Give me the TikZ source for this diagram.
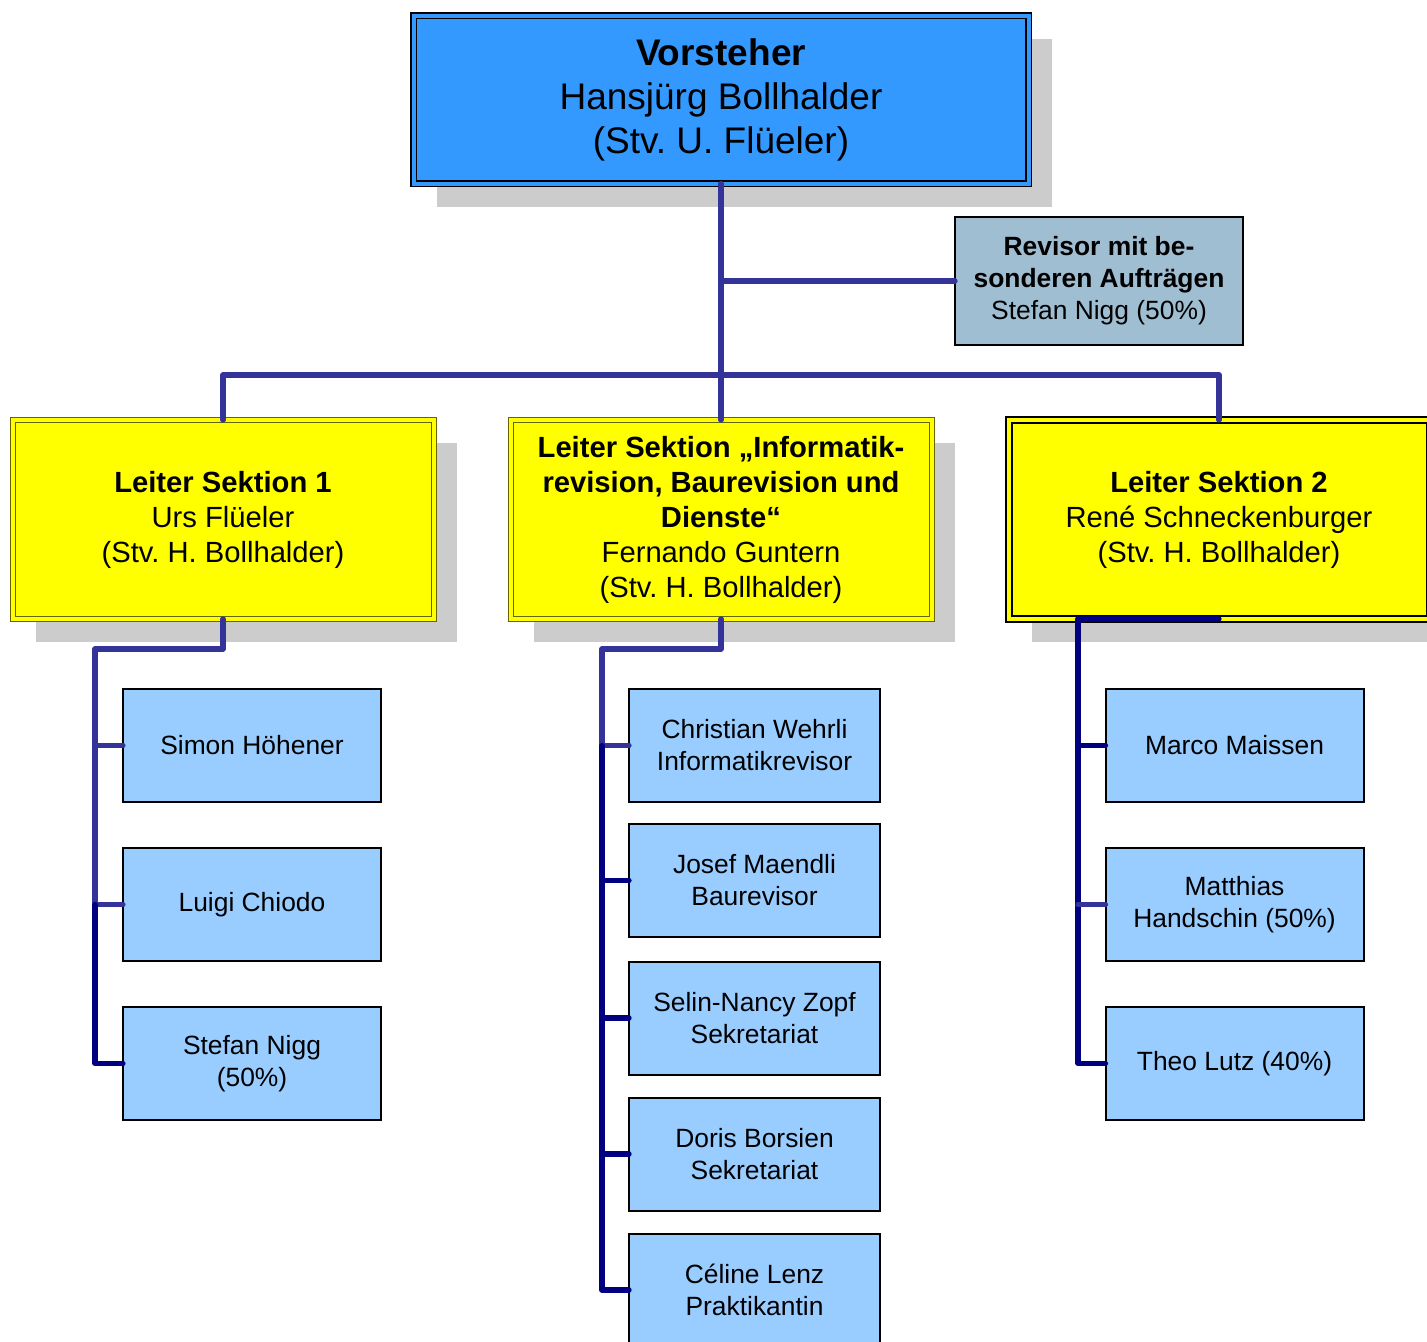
\documentclass[tikz,border=0pt]{standalone}
\usepackage{fontspec}
\setmainfont{Liberation Sans}
\frenchspacing
\usetikzlibrary{shadows}

\definecolor{chiefblue}{HTML}{3399FF}
\definecolor{revgray}{HTML}{A0BED2}
\definecolor{leiteryellow}{HTML}{FFFF00}
\definecolor{olive}{HTML}{666600}
\definecolor{staffblue}{HTML}{99CCFF}
\definecolor{linkblue}{HTML}{333399}
\definecolor{linknavy}{HTML}{000080}
\definecolor{shadowgray}{HTML}{CCCCCC}

\begin{document}
\begin{tikzpicture}
	[
	x=0.5pt, y=-0.5pt,
	align=center,
	box/.style={rectangle, inner sep=0pt, outer sep=0pt},
	shade/.style={drop shadow={shadow xshift=11.5pt, shadow yshift=-11.5pt, fill=shadowgray, opacity=1}},
	chief/.style={box, shade, fill=chiefblue, draw=black, line width=0.6pt, double=chiefblue, double distance=2pt, minimum width=307.5pt, minimum height=84pt, font=\fontsize{18.5}{22}\selectfont},
	revisor/.style={box, fill=revgray, draw=black, line width=1pt, minimum width=144pt, minimum height=64pt, font=\fontsize{13.2}{16}\selectfont},
	leiter/.style={box, shade, fill=leiteryellow, draw=olive, line width=0.5pt, double=leiteryellow, double distance=2pt, minimum width=210.5pt, minimum height=99.5pt, font=\fontsize{14.6}{17.5}\selectfont},
	staff/.style={box, fill=staffblue, draw=black, line width=1pt, minimum width=129pt, minimum height=56.5pt, font=\fontsize{13.2}{16}\selectfont},
	link/.style={draw=linkblue, line width=2.6pt, line cap=round, line join=round},
	linkdark/.style={link, draw=linknavy},
	]
		\clip (0,0) rectangle (1427,1341);
		
		% head
		\node[chief] (vor) at 		( 721,  99.5 ) {\textbf{Vorsteher}\\Hansjürg Bollhalder\\(Stv. U. Flüeler)};
		\node[revisor] (rev) at 	(1099, 281.0 ) {\textbf{Revisor mit be-}\\\textbf{sonderen Aufträgen}\\Stefan Nigg (50\%)};
		
		% sections
		\node[leiter] (s1) at 		( 223, 519.5 ) {\textbf{Leiter Sektion 1}\\Urs Flüeler\\(Stv. H. Bollhalder)};
		\node[leiter] (s2) at 		( 721, 519.5 ) {\textbf{Leiter Sektion „Informatik-}\\\textbf{revision, Baurevision und}\\\textbf{Dienste“}\\Fernando Guntern\\(Stv. H. Bollhalder)};
		\node[leiter, draw=black, line width=1pt] (s3) at (1219, 519.5 ) {\textbf{Leiter Sektion 2}\\René Schneckenburger\\(Stv. H. Bollhalder)};
		
		% staff section 1
		\node[staff] (c11) at 		( 252, 745.5 ) {Simon Höhener};
		\node[staff] (c12) at 		( 252, 904.5 ) {Luigi Chiodo};
		\node[staff] (c13) at 		( 252,1063.5 ) {Stefan Nigg\\(50\%)};
		
		% staff informatik
		\node[staff, minimum width=125.5pt] (c21) at (754.5, 745.5 ) {Christian Wehrli\\Informatikrevisor};
		\node[staff, minimum width=125.5pt] (c22) at (754.5, 880.5 ) {Josef Maendli\\Baurevisor};
		\node[staff, minimum width=125.5pt] (c23) at (754.5,1018.0 ) {Selin-Nancy Zopf\\Sekretariat};
		\node[staff, minimum width=125.5pt] (c24) at (754.5,1154.0 ) {Doris Borsien\\Sekretariat};
		\node[staff, minimum width=125.5pt] (c25) at (754.5,1290.0 ) {Céline Lenz\\Praktikantin};
		
		% staff section 2
		\node[staff] (c31) at 		(1234.5, 745.5 ) {Marco Maissen};
		\node[staff] (c32) at 		(1234.5, 904.5 ) {Matthias\\Handschin (50\%)};
		\node[staff] (c33) at 		(1234.5,1063.5 ) {Theo Lutz (40\%)};
		
		% knees
		\coordinate (bus) at 		( 721, 375 );
		\coordinate (k1) at 		(  95, 649 );
		\coordinate (k2) at 		( 602, 649 );
		\coordinate (k3) at 		(1078, 622 );
		
		\draw[link] (vor.south) -- (s2.north);
		\draw[link] (vor.south |- rev.west) -- (rev.west);
		\draw[link] (s1.north) |- (bus) -| (s3.north);
		
		\draw[link] (s1.south) |- (k1) |- (c12.west);
		\draw[link] (k1 |- c11.west) -- (c11.west);
		\draw[linkdark] (k1 |- c12.west) |- (c13.west);
		
		\draw[link] (s2.south) |- (k2) |- (c21.west);
		\draw[linkdark] (k2 |- c21.west) |- (c25.west);
		\foreach \to in {c22,c23,c24} \draw[linkdark] (k2 |- \to.west) -- (\to.west);
		
		\draw[linkdark] (s3.south) -- (s3.south -| k3) |- (c33.west);
		\draw[linkdark] (k3 |- c31.west) -- (c31.west);
		\draw[link] (k3 |- c32.west) -- (c32.west);
		
	\end{tikzpicture}
\end{document}
